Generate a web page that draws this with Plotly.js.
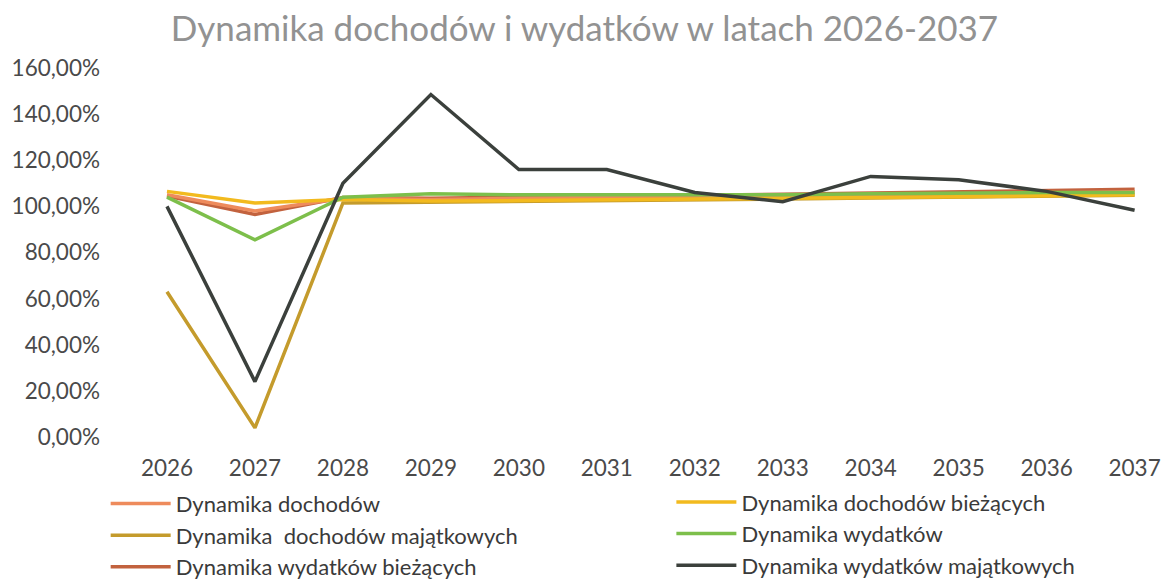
<!DOCTYPE html>
<html>
<head>
<meta charset="utf-8">
<script src="https://cdn.plot.ly/plotly-3.0.1.min.js"></script>
<style>html,body{margin:0;padding:0;background:#fff;}#chart{width:1162px;height:581px;}</style>
</head>
<body>
<div id="chart"></div>
<script>
const years = ["2026","2027","2028","2029","2030","2031","2032","2033","2034","2035","2036","2037"];
const seriesNames = [
  "Dynamika dochodów",
  "Dynamika dochodów bieżących",
  "Dynamika  dochodów majątkowych",
  "Dynamika wydatków",
  "Dynamika wydatków bieżących",
  "Dynamika wydatków majątkowych"
];
const dochody = [105.0, 98.0, 103.5, 103.0, 103.5, 103.8, 104.0, 104.3, 104.8, 105.2, 105.8, 106.3];
const dochodyBiezace = [106.5, 101.5, 103.0, 102.3, 102.5, 102.8, 103.0, 103.5, 103.8, 104.2, 104.6, 105.0];
const dochodyMajatkowe = [63.0, 4.0, 101.5, 101.8, 102.0, 102.3, 102.8, 103.2, 103.6, 104.0, 104.4, 104.8];
const wydatki = [104.0, 85.5, 104.0, 105.5, 105.0, 105.0, 105.3, 105.0, 105.5, 105.8, 106.0, 106.0];
const wydatkiBiezace = [104.5, 96.5, 103.8, 103.5, 104.0, 104.3, 104.8, 105.3, 105.8, 106.3, 106.8, 107.4];
const wydatkiMajatkowe = [100.0, 24.0, 110.0, 148.5, 116.0, 116.0, 106.0, 102.0, 113.0, 111.5, 106.5, 98.3];
const colors = ["#EE8B5C", "#F2BA1E", "#C49B2C", "#7DBF4B", "#C2623E", "#3B403C"];
const allSeries = [dochody, dochodyBiezace, dochodyMajatkowe, wydatki, wydatkiBiezace, wydatkiMajatkowe];
const drawOrder = [4, 0, 2, 1, 3, 5];

const traces = allSeries.map((vals, i) => ({
  type: "scatter", mode: "lines", name: seriesNames[i],
  x: years.map((y, k) => k), y: vals,
  line: {color: colors[i], width: 3.5},
  legend: (i % 2 === 0) ? "legend" : "legend2",
  legendgroup: "g" + i,
  legendrank: i + 1,
  hoverinfo: "skip"
}));
const ordered = drawOrder.map(i => traces[i]);

const legendBase = {
  orientation: "v", xref: "paper", yref: "paper",
  xanchor: "left", yanchor: "top", traceorder: "normal", tracegroupgap: 6,
  font: {family: "Lato, sans-serif", size: 22, color: "#3a3a3a"},
  itemwidth: 60, bgcolor: "rgba(0,0,0,0)"
};

const layout = {
  width: 1162, height: 581,
  paper_bgcolor: "#fff", plot_bgcolor: "#fff",
  separators: ", ",
  margin: {l: 123, r: 1, t: 68, b: 144, autoexpand: false},
  title: {text: "Dynamika dochodów i wydatków w latach 2026-2037",
    font: {family: "Lato, 'Open Sans', sans-serif", size: 35, color: "#929292"},
    x: 0.503, xanchor: "center", y: 0.95, yanchor: "middle"},
  xaxis: {range: [-0.5, 11.3], tickvals: years.map((y, k) => k), ticktext: years,
    showgrid: false, zeroline: false, showline: false, ticks: "",
    ticklabelstandoff: 15, automargin: false,
    tickfont: {family: "Lato, sans-serif", size: 22.5, color: "#4a4a4a"}},
  yaxis: {range: [0, 160], dtick: 20, tickformat: ".2f", ticksuffix: "%",
    showgrid: false, zeroline: false, showline: false, ticks: "",
    ticklabelstandoff: 22, automargin: false,
    tickfont: {family: "Lato, sans-serif", size: 22.5, color: "#4a4a4a"}},
  showlegend: true,
  legend: Object.assign({}, legendBase, {x: -0.0167, y: -0.124}),
  legend2: Object.assign({}, legendBase, {x: 0.5283, y: -0.1198})
};
Plotly.newPlot("chart", ordered, layout, {displayModeBar: false, staticPlot: true});
</script>
</body>
</html>
